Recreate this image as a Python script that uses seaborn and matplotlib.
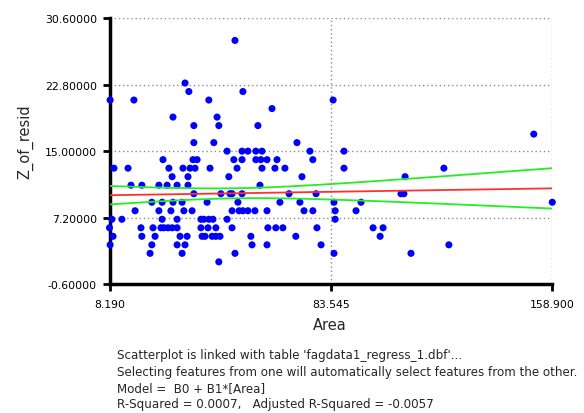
import matplotlib
matplotlib.use("Agg")
import matplotlib.pyplot as plt
import numpy as np
import pandas as pd
import seaborn as sns

# points, one line per Z_of_resid level
area = [
    50.9,
    33.9,
    35.2, 53.6,
    8.4, 16.5, 42.0, 84.3,
    63.5,
    29.8, 44.8,
    36.9, 45.4, 58.7,
    152.6,
    36.9, 43.7, 72.0,
    48.2, 53.3, 55.3, 58.0, 60.1, 76.4, 88.0,
    26.4, 36.6, 38.0, 50.5, 53.3, 58.0, 59.7, 61.8, 65.2, 77.4,
    9.7, 14.5, 28.4, 33.2, 35.6, 37.3, 42.4, 51.6, 60.1, 64.5, 67.9, 88.0, 122.0,
    29.5, 34.9, 48.8, 73.7, 108.8,
    15.5, 19.2, 25.0, 27.8, 31.2, 34.9, 59.4,
    36.9, 46.1, 49.2, 49.9, 53.3, 69.3, 78.5, 107.4, 108.4,
    22.6, 26.1, 29.8, 32.9, 41.4, 51.9, 66.2, 73.0, 84.6, 93.8, 158.9,
    16.9, 25.0, 29.1, 33.5, 36.3, 49.9, 52.3, 53.6, 55.3, 57.7, 61.8, 74.4, 77.4, 85.0, 92.1,
    9.0, 12.4, 26.1, 31.2, 39.3, 40.3, 42.0, 43.4, 48.2, 85.0,
    8.19, 18.9, 23.0, 25.7, 26.7, 28.1, 29.5, 31.2, 39.3, 41.7, 44.4, 49.9, 62.1, 64.8, 67.2, 78.8, 97.9, 101.3,
    9.4, 19.2, 23.7, 32.2, 34.6, 39.7, 40.7, 43.1, 44.4, 45.8, 56.3, 71.6, 100.3,
    8.4, 22.6, 31.2, 33.9, 56.7, 61.8, 80.2, 123.7,
    22.0, 32.9, 50.9, 84.6, 110.8,
    45.4,
]
z_resid = [
    28,
    23,
    22, 22,
    21, 21, 21, 21,
    20,
    19, 19,
    18, 18, 18,
    17,
    16, 16, 16,
    15, 15, 15, 15, 15, 15, 15,
    14, 14, 14, 14, 14, 14, 14, 14, 14, 14,
    13, 13, 13, 13, 13, 13, 13, 13, 13, 13, 13, 13, 13,
    12, 12, 12, 12, 12,
    11, 11, 11, 11, 11, 11, 11,
    10, 10, 10, 10, 10, 10, 10, 10, 10,
    9, 9, 9, 9, 9, 9, 9, 9, 9, 9, 9,
    8, 8, 8, 8, 8, 8, 8, 8, 8, 8, 8, 8, 8, 8, 8,
    7, 7, 7, 7, 7, 7, 7, 7, 7, 7,
    6, 6, 6, 6, 6, 6, 6, 6, 6, 6, 6, 6, 6, 6, 6, 6, 6, 6,
    5, 5, 5, 5, 5, 5, 5, 5, 5, 5, 5, 5, 5,
    4, 4, 4, 4, 4, 4, 4, 4,
    3, 3, 3, 3, 3,
    2,
]

x_ticks = [8.19, 83.545, 158.9]
y_ticks = [-0.6, 7.2, 15.0, 22.8, 30.6]

notes = [
    "Scatterplot is linked with table 'fagdata1_regress_1.dbf'...",
    "Selecting features from one will automatically select features from the other.",
    "Model =  B0 + B1*[Area]",
    "R-Squared = 0.0007,   Adjusted R-Squared = -0.0057",
]

df = pd.DataFrame({"Area": area, "Z_of_resid": z_resid})

sns.set_style("white")
plt.rcParams["font.family"] = ["DejaVu Sans"]

fig = plt.figure(figsize=(5.84, 4.14), dpi=100)
ax = fig.add_axes([0.1875, 0.3116, 0.7582, 0.6418])

sns.scatterplot(data=df, x="Area", y="Z_of_resid", color="#0000ff", s=26,
                edgecolor="none", ax=ax, zorder=3, clip_on=False)

# least squares line with a band around it
x = df["Area"].to_numpy()
y = df["Z_of_resid"].to_numpy()
n = len(x)
b1, b0 = np.polyfit(x, y, 1)
xs = np.linspace(x_ticks[0], x_ticks[-1], 200)
fit = b0 + b1 * xs
s = np.sqrt(np.sum((y - (b0 + b1 * x)) ** 2) / (n - 2))
se = s * np.sqrt(1 / n + (xs - x.mean()) ** 2 / np.sum((x - x.mean()) ** 2))
k = 1.44
ax.plot(xs, fit, color="#ff3030", lw=1.3, zorder=4)
ax.plot(xs, fit + k * se, color="#22ee22", lw=1.3, zorder=4)
ax.plot(xs, fit - k * se, color="#22ee22", lw=1.3, zorder=4)

ax.set_xlim(x_ticks[0], x_ticks[-1])
ax.set_ylim(y_ticks[0], y_ticks[-1])
ax.set_xticks(x_ticks)
ax.set_yticks(y_ticks)
ax.set_xticklabels([f"{v:.3f}" for v in x_ticks])
ax.set_yticklabels([f"{v:.5f}" for v in y_ticks])
ax.grid(True, linestyle=(0, (1, 2)), color="#8c8c8c", lw=1)
ax.set_axisbelow(True)

for side in ["top", "right"]:
    ax.spines[side].set_visible(False)
for side in ["left", "bottom"]:
    ax.spines[side].set_linewidth(2.5)
    ax.spines[side].set_color("black")

ax.tick_params(left=True, bottom=True, direction="out", length=5, width=2,
               labelsize=7.8, colors="black")
ax.tick_params(axis="x", pad=6)
ax.tick_params(axis="y", pad=4)

ax.set_xlabel("Area", fontsize=10.5)
ax.set_ylabel("Z_of_resid", fontsize=10.5)
ax.xaxis.set_label_coords(0.498, -0.125)
ax.yaxis.set_label_coords(-0.172, 0.54)

for i, line in enumerate(notes):
    fig.text(117 / 584, 1 - (356 + 16.2 * i) / 414, line, fontsize=8.6,
             va="center", ha="left")

fig.savefig("out.png", dpi=100)
